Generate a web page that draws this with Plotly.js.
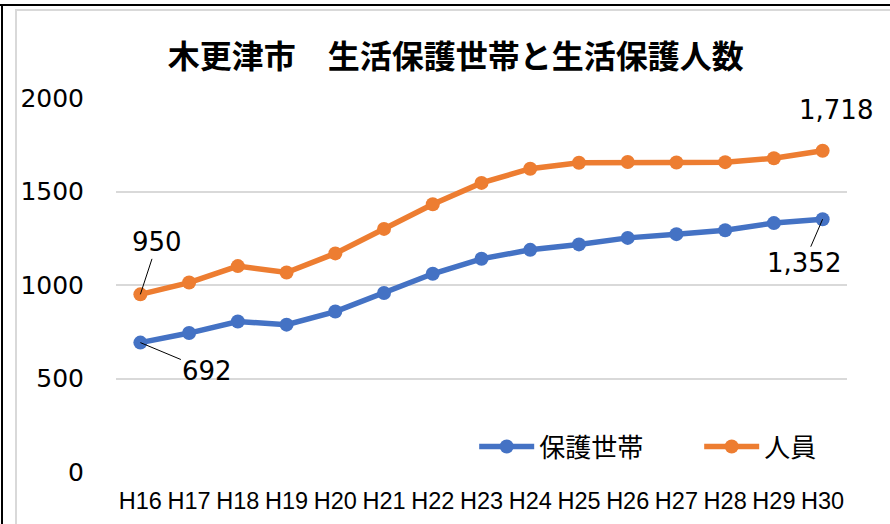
<!DOCTYPE html>
<html>
<head>
<meta charset="utf-8">
<script src="https://cdn.plot.ly/plotly-3.0.1.min.js"></script>
<style>
html,body{margin:0;padding:0;background:#fff;}
#wrap{position:relative;width:890px;height:524px;overflow:hidden;}
#chart{position:absolute;left:0;top:0;width:890px;height:524px;}
.b{position:absolute;pointer-events:none;}
</style>
</head>
<body>
<div id="wrap">
<div id="chart"></div>
<div class="b" style="left:0;top:4px;width:890px;height:2px;background:#000;"></div>
<div class="b" style="left:1px;top:4px;width:2px;height:520px;background:#000;"></div>
<div class="b" style="left:15px;top:9px;width:875px;height:2px;background:#d9d9d9;"></div>
<div class="b" style="left:15px;top:9px;width:2px;height:515px;background:#d9d9d9;"></div>
</div>
<script>
const categories = ['H16','H17','H18','H19','H20','H21','H22','H23','H24','H25','H26','H27','H28','H29','H30'];
const households = [692, 743, 805, 788, 858, 957, 1060, 1140, 1188, 1217, 1252, 1272, 1293, 1331, 1352];
const persons = [950, 1013, 1101, 1067, 1169, 1300, 1432, 1546, 1622, 1654, 1658, 1655, 1657, 1678, 1718];
const seriesNames = ['保護世帯', '人員'];
const yTicks = [0, 500, 1000, 1500, 2000];

const numFont = 'DejaVu Sans, Verdana, sans-serif';
const cjkFont = 'Noto Sans CJK JP, sans-serif';

const fmt = v => v.toLocaleString('en-US');
const last = categories.length - 1;

const traces = [
  {x: categories, y: households, name: seriesNames[0], type: 'scatter', mode: 'lines+markers',
   line: {color: '#4472C4', width: 5.5}, marker: {color: '#4472C4', size: 14}},
  {x: categories, y: persons, name: seriesNames[1], type: 'scatter', mode: 'lines+markers',
   line: {color: '#ED7D31', width: 5.5}, marker: {color: '#ED7D31', size: 14}}
];

const ann = (x, y, ax, ay, arrow) => ({
  x: x, y: y, xref: 'x', yref: 'y', text: fmt(y), showarrow: true,
  arrowhead: 0, arrowwidth: 1, arrowcolor: arrow ? '#000' : 'rgba(0,0,0,0)',
  ax: ax, ay: ay, font: {family: numFont, size: 26, color: '#000'}
});

const layout = {
  width: 890, height: 524,
  margin: {l: 115.6, r: 42.6, t: 97.5, b: 51.5, autoexpand: false},
  paper_bgcolor: '#fff', plot_bgcolor: '#fff',
  title: {text: '木更津市　生活保護世帯と生活保護人数', x: 0.512, xref: 'container', xanchor: 'center',
          y: 1 - 57/524, yref: 'container', yanchor: 'middle',
          font: {family: cjkFont, size: 32, weight: 'bold', color: '#000'}},
  xaxis: {type: 'category', range: [-0.5, categories.length - 0.5], showgrid: false, zeroline: false,
          showline: false, ticks: '', automargin: false,
          tickfont: {family: 'Liberation Sans, Arial, sans-serif', size: 23.5, color: '#000'},
          ticklabelstandoff: 12, fixedrange: true},
  yaxis: {range: [0, 2000], tickvals: yTicks, ticktext: yTicks.map(String), showgrid: true,
          automargin: false,
          gridcolor: '#d9d9d9', gridwidth: 2, zeroline: false, showline: false, ticks: '',
          tickfont: {family: numFont, size: 25, color: '#000'}, ticklabelstandoff: 31, fixedrange: true},
  showlegend: true,
  legend: {orientation: 'h', x: 0.49, xanchor: 'left', y: 0.068, yanchor: 'middle',
           font: {family: cjkFont, size: 26, color: '#000'}, bgcolor: 'rgba(0,0,0,0)',
           itemwidth: 55, entrywidth: 155, entrywidthmode: 'pixels'},
  annotations: [
    ann(categories[0], persons[0], 17, -52, true),
    ann(categories[0], households[0], 67, 28, true),
    ann(categories[last], households[last], -19, 44, true),
    ann(categories[last], persons[last], 13, -41, false)
  ]
};

Plotly.newPlot('chart', traces, layout, {displayModeBar: false, staticPlot: true});
</script>
</body>
</html>
